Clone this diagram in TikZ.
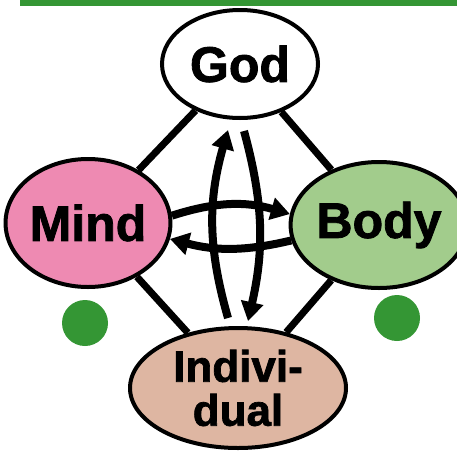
\documentclass[tikz,border=0pt]{standalone}
\usepackage{fontspec}
\setmainfont{Liberation Sans}
\newfontfamily\heavyfont[FakeBold=1.6]{Liberation Sans Bold}
\usetikzlibrary{positioning, arrows.meta, shapes.geometric}
\definecolor{godfill}{RGB}{255, 255, 255}
\definecolor{mindfill}{RGB}{238, 138, 178}
\definecolor{bodyfill}{RGB}{162, 204, 140}
\definecolor{indivfill}{RGB}{222, 182, 162}
\definecolor{leafgreen}{RGB}{52, 150, 52}

\begin{document}
\begin{tikzpicture}[
    x=1pt, y=-1pt,
    >={Triangle[length=19pt, width=22pt]},
    bubble/.style={
        draw=black,
        fill=#1fill,
        ellipse,
        line width=4pt,
        inner sep=0pt,
        font=\fontsize{50}{50}\selectfont\heavyfont,
    },
    greendot/.style={
        fill=leafgreen,
        circle,
        inner sep=0pt,
        minimum size=46pt,
    },
    link/.style={line width=7pt},
    flow/.style={->, line width=8pt},
]

\useasboundingbox (0,0) rectangle (457,450);

% -- Top bar
\node[fill=leafgreen, anchor=north west, minimum width=437pt, minimum height=6pt, inner sep=0pt] (bar) at (20,0) {};

% -- The four bubbles
\node[bubble=god, minimum width=156pt, minimum height=108pt] (god) at (240,64) {God};
\node[bubble=mind, minimum width=152pt, minimum height=128pt] (mind) at (88,223) {Mind};
\node[bubble=body, minimum width=142pt, minimum height=126pt] (body) at (379,225) {Body};
\node[bubble=indiv, minimum width=216pt, minimum height=120pt, align=center,
      font=\fontsize{44}{44}\selectfont\heavyfont] (indiv) at (238,388) {Indivi-\\dual};

% -- Green dots
\node[greendot] (dotl) at (85,323) {};
\node[greendot] (dotr) at (397,318) {};

% ===== Links =====
\draw[link] (god) -- (mind);
\draw[link] (god) -- (body);
\draw[link] (mind) -- (indiv);
\draw[link] (body) -- (indiv);

% ===== Arrows =====

% mind -> body (over the top)
\draw[flow] (mind.5) to[bend left=17] (body.173);

% body -> mind (underneath)
\draw[flow] (body.190) to[bend left=14] (mind.-11);

% individual -> god (left side)
\draw[flow] ([xshift=-10pt, yshift=8pt]indiv.north) to[bend left=16] ([xshift=-12pt, yshift=-10pt]god.south);

% god -> individual (right side)
\draw[flow] ([xshift=4pt, yshift=-11pt]god.south) to[bend left=14] ([xshift=10pt, yshift=5pt]indiv.north);

\end{tikzpicture}
\end{document}
